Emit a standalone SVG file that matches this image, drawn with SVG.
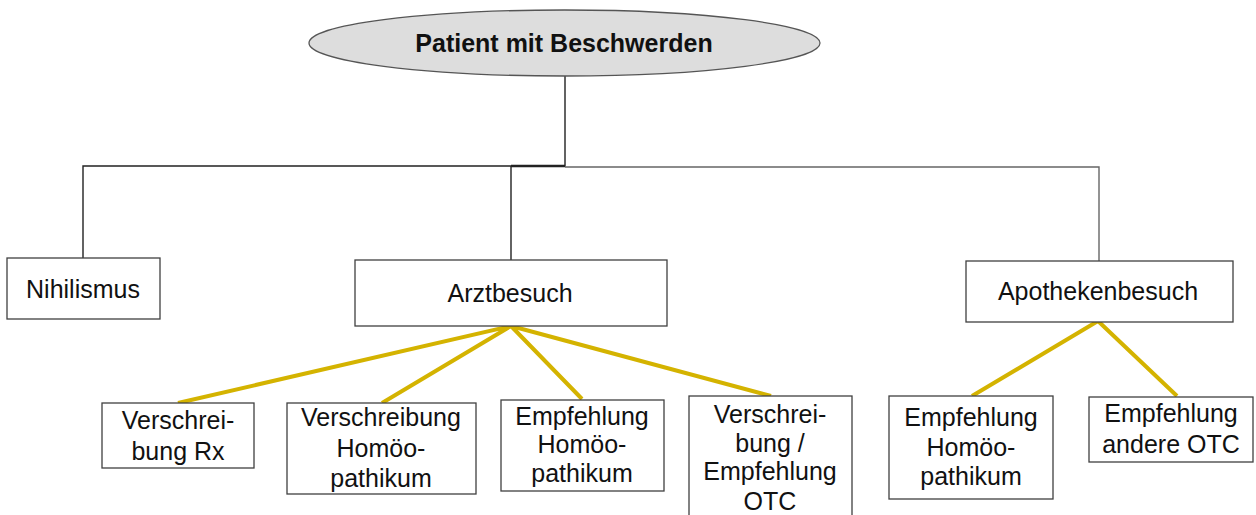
<svg xmlns="http://www.w3.org/2000/svg" width="1256" height="515" viewBox="0 0 1256 515">
<style>
.box{fill:#fff;stroke:#404040;stroke-width:1.3}
.t{font-family:"Liberation Sans",Arial,sans-serif;font-size:25px;fill:#111;text-anchor:middle}
.tb{font-weight:bold}
.tree{fill:none;stroke:#222;stroke-width:1.4}
.gold{fill:none;stroke:#D4B300;stroke-width:4;stroke-linecap:butt}
</style>
<rect width="1256" height="515" fill="#fff"/>
<g id="connectors">
<path class="tree" d="M565 76 V166 H83 V258"/>
<path class="tree" d="M511 166 V260"/>
<path d="M511 166 H565" stroke="#222" stroke-width="2.4" fill="none"/>
<path d="M565 167 H1099 V261" stroke="#666" stroke-width="1.4" fill="none"/>
<path class="gold" d="M511 326 L178 403 M511 326 L382 403 M511 326 L582 399 M511 326 L771 396"/>
<path class="gold" d="M1098 321 L972 396 M1098 321 L1177 396"/>
</g>
<g id="root">
<ellipse cx="564.5" cy="43" rx="255.5" ry="33" fill="#DDDDDD" stroke="#555" stroke-width="1.3"/>
<text class="t tb" x="564" y="52">Patient mit Beschwerden</text>
</g>
<g id="nihilismus">
<rect class="box" x="7" y="258" width="153" height="61"/>
<text class="t" x="83" y="298">Nihilismus</text>
</g>
<g id="arztbesuch">
<rect class="box" x="355" y="260" width="312" height="66"/>
<text class="t" x="510" y="302">Arztbesuch</text>
</g>
<g id="apothekenbesuch">
<rect class="box" x="966" y="261" width="267" height="61"/>
<text class="t" x="1098" y="300">Apothekenbesuch</text>
</g>
<g id="verschreibung-rx">
<rect class="box" x="102" y="403" width="152" height="65"/>
<text class="t" x="178" y="429">Verschrei-</text>
<text class="t" x="178" y="460">bung Rx</text>
</g>
<g id="verschreibung-homoeo">
<rect class="box" x="287" y="403" width="189" height="91"/>
<text class="t" x="381" y="426">Verschreibung</text>
<text class="t" x="381" y="457">Homöo-</text>
<text class="t" x="381" y="487">pathikum</text>
</g>
<g id="empfehlung-homoeo-arzt">
<rect class="box" x="501" y="400" width="163" height="91"/>
<text class="t" x="582" y="425">Empfehlung</text>
<text class="t" x="582" y="453">Homöo-</text>
<text class="t" x="582" y="482">pathikum</text>
</g>
<g id="verschreibung-otc">
<rect class="box" x="689" y="396" width="163" height="130"/>
<text class="t" x="770" y="423">Verschrei-</text>
<text class="t" x="770" y="452">bung /</text>
<text class="t" x="770" y="480">Empfehlung</text>
<text class="t" x="770" y="510">OTC</text>
</g>
<g id="empfehlung-homoeo-apotheke">
<rect class="box" x="889" y="396" width="164" height="103"/>
<text class="t" x="971" y="426">Empfehlung</text>
<text class="t" x="971" y="456">Homöo-</text>
<text class="t" x="971" y="485">pathikum</text>
</g>
<g id="empfehlung-andere-otc">
<rect class="box" x="1089" y="397" width="164" height="65"/>
<text class="t" x="1171" y="422">Empfehlung</text>
<text class="t" x="1171" y="453">andere OTC</text>
</g>
</svg>
